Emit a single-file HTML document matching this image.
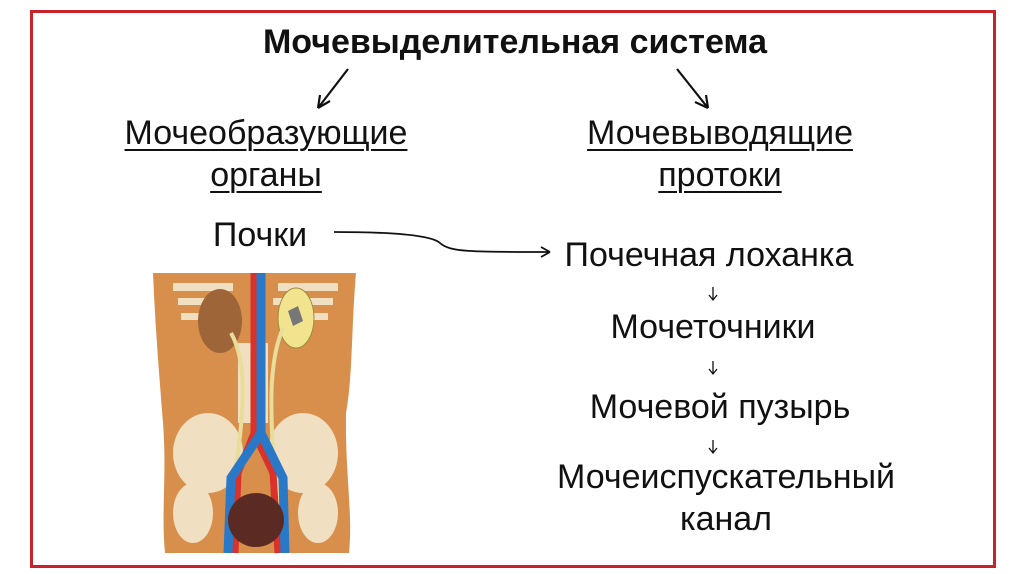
<!DOCTYPE html>
<html><head><meta charset="utf-8"><style>
body{margin:0;width:1024px;height:574px;background:#fff;position:relative;overflow:hidden;font-family:"Liberation Sans","Noto Sans CJK SC",sans-serif;color:#111}
.frame{position:absolute;left:30px;top:10px;width:960px;height:552px;border:3px solid #c8232a}
.t{position:absolute;white-space:nowrap;font-size:34px;transform:translateX(-50%);text-align:center;line-height:40px}
u{text-decoration-thickness:2px;text-underline-offset:5px}
</style></head><body>
<div class="frame"></div>
<div class="t" style="left:515px;top:22px;font-weight:bold;font-size:34px">Мочевыделительная система</div>
<div class="t" style="left:266px;top:113px"><u>Мочеобразующие</u></div>
<div class="t" style="left:266px;top:155px"><u>органы</u></div>
<div class="t" style="left:720px;top:113px"><u>Мочевыводящие</u></div>
<div class="t" style="left:720px;top:155px"><u>протоки</u></div>
<div class="t" style="left:260px;top:215px">Почки</div>
<div class="t" style="left:709px;top:235px">Почечная лоханка</div>
<div class="t" style="left:713px;top:307px">Мочеточники</div>
<div class="t" style="left:720px;top:387px">Мочевой пузырь</div>
<div class="t" style="left:726px;top:457px">Мочеиспускательный</div>
<div class="t" style="left:726px;top:499px">канал</div>
<svg width="1024" height="574" style="position:absolute;left:0;top:0">
<g stroke="#111" stroke-width="2.2" fill="none">
<path d="M348 69 L318 108 M318 108 L320 95 M318 108 L330 101"/>
<path d="M677 69 L708 108 M708 108 L695 102 M708 108 L706 95"/>
<path d="M334 232 C380 232 430 234 440 243 C450 252 470 252 550 252 M550 252 L541 247 M550 252 L541 257" stroke-width="1.8"/>
<g stroke-width="1.3"><path d="M713 287 V299 M709 295 L713 300 L717 295"/><path d="M713 361 V373 M709 369 L713 374 L717 369"/><path d="M713 440 V452 M709 448 L713 453 L717 448"/></g>
</g>
<g transform="translate(153,273)">
<path d="M0 0 H203 C198 60 200 100 193 140 C192 200 200 240 196 280 H12 C8 240 14 200 10 150 C6 100 2 50 0 0Z" fill="#d88f4c"/>
<g fill="#f0dfc0">
<path d="M20 10 h60 v8 h-60z M25 25 h55 v7 h-55z M28 40 h45 v7 h-45z M125 10 h60 v8 h-60z M120 25 h60 v7 h-60z M130 40 h45 v7 h-45z"/>
<ellipse cx="55" cy="180" rx="35" ry="40"/><ellipse cx="150" cy="180" rx="35" ry="40"/>
<ellipse cx="40" cy="240" rx="20" ry="30"/><ellipse cx="165" cy="240" rx="20" ry="30"/>
<rect x="85" y="70" width="30" height="80"/>
</g>
<ellipse cx="67" cy="48" rx="22" ry="32" fill="#9e6538"/>
<ellipse cx="143" cy="45" rx="18" ry="30" fill="#f2e38f" stroke="#9b8d3a"/>
<path d="M135 38 l10-5 5 15 -10 5z" fill="#777"/>
<path d="M78 60 C95 90 90 140 85 180 C78 220 75 240 92 245 M130 55 C115 90 118 140 120 180 C125 220 130 240 115 245" stroke="#e8dd9a" stroke-width="4" fill="none"/>
<path d="M101 0 V160 L85 200 L82 280 M101 160 L120 200 L125 280" stroke="#d8322b" stroke-width="7" fill="none"/>
<path d="M108 0 V160 L78 205 L75 280 M108 160 L130 205 L132 280" stroke="#2a79c8" stroke-width="9" fill="none"/>
<ellipse cx="103" cy="247" rx="28" ry="27" fill="#5b2a22"/>
</g>
</svg>
</body></html>
